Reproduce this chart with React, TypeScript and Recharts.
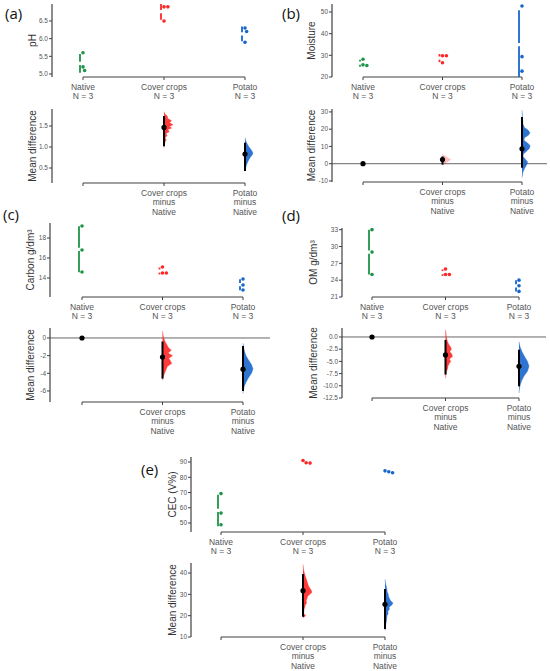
import React from 'react';
import { ComposedChart, XAxis, YAxis, Scatter, ReferenceLine } from 'recharts';

// groups, in plotting order
const groups = ['Native', 'Cover crops', 'Potato'];
const groupN = [3, 3, 3];

// raw observations per group (Native, Cover crops, Potato)
const phValues = [[5.6, 5.2, 5.1], [6.9, 6.9, 6.5], [6.3, 6.2, 5.9]];
const moistureValues = [[28.2, 25.6, 25.3], [29.8, 29.8, 26.6], [52.8, 29.4, 22.7]];
const carbonValues = [[19.2, 16.8, 14.6], [15.1, 14.5, 14.5], [13.9, 13.3, 12.8]];
const omValues = [[33, 29, 25], [26, 25, 25], [24, 23, 22]];
const cecValues = [[69.3, 56.5, 48.9], [91.0, 89.5, 89.3], [84.2, 83.6, 83.0]];

// 95% CI of the mean difference vs Native (Cover crops, Potato)
const phCi = [[1.02, 1.74], [0.43, 1.1]];
const moistureCi = [[-0.5, 4.2], [-2.3, 27]];
const carbonCi = [[-4.6, -0.4], [-6.0, -0.9]];
const omCi = [[-7.7, -0.6], [-10.1, -2.6]];
const cecCi = [[19.5, 39.5], [13.7, 32.5]];

// bootstrap density outlines: [mean difference, relative density]
const phCoverDensity = [[0.98, 0], [1.05, 0.04], [1.12, 0.12], [1.17, 0.25], [1.22, 0.12], [1.27, 0.35], [1.32, 0.22], [1.37, 0.6], [1.41, 0.4], [1.45, 0.85], [1.49, 0.6], [1.53, 1.0], [1.58, 0.62], [1.63, 0.82], [1.68, 0.4], [1.73, 0.38], [1.78, 0.12], [1.84, 0]];
const phPotatoDensity = [[0.42, 0], [0.5, 0.08], [0.58, 0.2], [0.65, 0.35], [0.7, 0.5], [0.75, 0.65], [0.8, 0.85], [0.85, 1.0], [0.9, 0.88], [0.95, 0.7], [1.0, 0.5], [1.05, 0.35], [1.1, 0.2], [1.16, 0.08], [1.22, 0]];
const moistureCoverDensity = [[-1, 0], [0, 0.3], [1, 0.55], [2, 0.9], [2.5, 1.0], [3, 0.8], [4, 0.45], [5, 0.1], [5.5, 0]];
const moisturePotatoDensity = [[-8, 0], [-5, 0.1], [-2.5, 0.35], [-0.5, 0.6], [1, 0.7], [2.5, 0.45], [4, 0.15], [5.5, 0.15], [7, 0.5], [9, 0.95], [10.5, 1.0], [12, 0.7], [13.5, 0.25], [15, 0.3], [16.5, 0.8], [18, 1.0], [19.5, 0.75], [21, 0.3], [23, 0.12], [26, 0.06], [29, 0.03], [31, 0]];
const carbonCoverDensity = [[0.8, 0], [0.4, 0.05], [0, 0.12], [-0.4, 0.25], [-0.8, 0.45], [-1.1, 0.6], [-1.4, 0.88], [-1.7, 0.55], [-2.0, 1.0], [-2.3, 0.62], [-2.6, 0.8], [-2.9, 0.92], [-3.2, 0.5], [-3.6, 0.35], [-4.0, 0.2], [-4.4, 0.08], [-4.8, 0]];
const carbonPotatoDensity = [[-0.6, 0], [-1, 0.05], [-1.5, 0.15], [-2, 0.3], [-2.5, 0.55], [-3, 0.85], [-3.5, 1.0], [-4, 0.85], [-4.5, 0.55], [-5, 0.3], [-5.5, 0.12], [-6, 0.03], [-6.3, 0]];
const omCoverDensity = [[1.5, 0], [1, 0.05], [0, 0.12], [-0.8, 0.25], [-1.5, 0.45], [-2, 0.7], [-2.5, 0.85], [-3, 0.6], [-3.5, 0.9], [-4, 1.0], [-4.5, 0.55], [-5, 0.75], [-5.5, 0.5], [-6, 0.35], [-6.5, 0.3], [-7, 0.15], [-7.5, 0.08], [-8.5, 0]];
const omPotatoDensity = [[-1, 0], [-2, 0.1], [-3, 0.3], [-4, 0.55], [-5, 0.85], [-6, 1.0], [-7, 0.85], [-8, 0.5], [-9, 0.25], [-10, 0.1], [-11, 0.02], [-11.5, 0]];
const cecCoverDensity = [[44, 0], [42, 0.05], [40, 0.15], [38, 0.3], [36, 0.45], [34, 0.6], [33, 0.75], [32, 0.9], [31, 1.0], [30, 0.75], [29, 0.5], [28, 0.45], [27, 0.35], [26, 0.4], [25, 0.25], [24, 0.2], [23, 0.12], [22, 0.1], [21, 0.08], [20, 0.3], [19, 0]];
const cecPotatoDensity = [[37, 0], [35, 0.08], [33, 0.2], [31, 0.3], [30, 0.4], [29, 0.45], [28, 0.55], [27, 0.7], [26, 1.0], [25, 0.85], [24, 0.5], [23, 0.55], [22, 0.35], [21, 0.4], [20, 0.25], [18, 0.2], [16, 0.1], [14, 0.05], [13, 0]];

// axis ticks
const phTicks = [5.0, 5.5, 6.0, 6.5];
const phDiffTicks = [0.5, 1.0, 1.5];
const moistureTicks = [20, 30, 40, 50];
const moistureDiffTicks = [-10, 0, 10, 20, 30];
const carbonTicks = [14, 16, 18];
const carbonDiffTicks = [-6, -4, -2, 0];
const omTicks = [21, 24, 27, 30, 33];
const omDiffTicks = [-12.5, -10, -7.5, -5, -2.5, 0];
const cecTicks = [50, 60, 70, 80, 90];
const cecDiffTicks = [10, 20, 30, 40];

const groupColors = ['#1f9447', '#ff2626', '#1766cc'];
const AXIS = '#404040';
const TEXT = '#555555';
const TITLE = '#333333';
const DOT_R = 1.8;
const PAD_LEFT = 4;

const mean = (a: number[]) => a.reduce((s, v) => s + v, 0) / a.length;
const sd = (a: number[]) => {
  const m = mean(a);
  return Math.sqrt(a.reduce((s, v) => s + (v - m) ** 2, 0) / (a.length - 1));
};

const panels = [
  {
    tag: '(a)', title: 'pH', values: phValues, ci: phCi, density: [phCoverDensity, phPotatoDensity],
    topDomain: [4.915, 6.98], topTicks: phTicks, diffDomain: [0.143, 1.905], diffTicks: phDiffTicks,
    decimals: 1, diffDecimals: 1,
    tagAt: [5, 4], axisX: 52, titleGap: 20, firstX: 83, step: 81, rightX: 272,
    topPlot: [4, 77], diffPlot: [109, 183], densityPx: [9, 8], densityOpacity: [0.9, 0.9],
  },
  {
    tag: '(b)', title: 'Moisture', values: moistureValues, ci: moistureCi, density: [moistureCoverDensity, moisturePotatoDensity],
    topDomain: [20, 53.7], topTicks: moistureTicks, diffDomain: [-10.6, 31.7], diffTicks: moistureDiffTicks,
    decimals: 0, diffDecimals: 0,
    tagAt: [282, 4], axisX: 332, titleGap: 21, firstX: 363, step: 79.5, rightX: 547,
    topPlot: [4, 77], diffPlot: [109, 182], densityPx: [8, 8], densityOpacity: [0.3, 0.9],
  },
  {
    tag: '(c)', title: 'Carbon g/dm³', values: carbonValues, ci: carbonCi, density: [carbonCoverDensity, carbonPotatoDensity],
    topDomain: [12.1, 19.5], topTicks: carbonTicks, diffDomain: [-7.25, 1.13], diffTicks: carbonDiffTicks,
    decimals: 0, diffDecimals: 0,
    tagAt: [3, 205], axisX: 50, titleGap: 20, firstX: 82, step: 80.5, rightX: 270,
    topPlot: [223, 297], diffPlot: [328, 402], densityPx: [10, 10], densityOpacity: [0.9, 0.9],
  },
  {
    tag: '(d)', title: 'OM g/dm³', values: omValues, ci: omCi, density: [omCoverDensity, omPotatoDensity],
    topDomain: [21, 33.3], topTicks: omTicks, diffDomain: [-12.5, 1.84], diffTicks: omDiffTicks,
    decimals: 0, diffDecimals: 1,
    tagAt: [282, 206], axisX: 342, titleGap: 29, firstX: 372, step: 73.5, rightX: 546,
    topPlot: [228, 297], diffPlot: [328, 398], densityPx: [7, 10], densityOpacity: [0.9, 0.9],
  },
  {
    tag: '(e)', title: 'CEC (V%)', values: cecValues, ci: cecCi, density: [cecCoverDensity, cecPotatoDensity],
    topDomain: [44.1, 93.3], topTicks: cecTicks, diffDomain: [10, 44.7], diffTicks: cecDiffTicks,
    decimals: 0, diffDecimals: 0,
    tagAt: [141, 460], axisX: 191, titleGap: 19, firstX: 221, step: 82, rightX: 412,
    topPlot: [457, 532], diffPlot: [563, 637], densityPx: [9, 8], densityOpacity: [0.9, 0.9],
  },
];

const groupRows = groups.map((g, i) => [g, `N = ${groupN[i]}`]);
const contrastRows = groups.map((g, i) => (i === 0 ? [] : [g, 'minus', groups[0]]));

const blank = () => <g />;

const MultiTick = (props: any) => {
  const { x, y, payload, rows } = props;
  const lines: string[] = rows[Math.round(payload.value)] || [];
  return (
    <g>
      {lines.map((t, i) => (
        <text key={i} x={x} y={y + 8 + i * 9.3} textAnchor="middle" fontSize={8.5} fill={TEXT}>
          {t}
        </text>
      ))}
    </g>
  );
};

// beeswarm: push overlapping dots to the right
const swarm = (vals: number[], gi: number, pxPerY: number, step: number) => {
  const d = DOT_R * 2 + 0.3;
  const placed: { dx: number; py: number }[] = [];
  return vals.map((v) => {
    const py = v * pxPerY;
    let dx = 0;
    let moved = true;
    while (moved) {
      moved = false;
      for (const p of placed) {
        const dy = Math.abs(p.py - py);
        if (dy >= d) continue;
        const need = Math.sqrt(d * d - dy * dy);
        if (Math.abs(dx - p.dx) < need - 1e-6) {
          dx = p.dx + need;
          moved = true;
        }
      }
    }
    placed.push({ dx, py });
    return { x: gi + dx / step, y: v };
  });
};

const yAxisProps = (ticks: number[], domain: number[], decimals: number, title: string, yw: number) => ({
  type: 'number' as const,
  dataKey: 'y',
  domain,
  allowDataOverflow: true,
  ticks,
  interval: 0 as const,
  width: yw,
  axisLine: { stroke: AXIS, strokeWidth: 1.2 },
  tickLine: { stroke: AXIS },
  tickSize: 3,
  tickMargin: 1,
  tick: { fontSize: 6.5, fill: TEXT },
  tickFormatter: (v: number) => v.toFixed(decimals),
  label: { value: title, angle: -90, position: 'center', fontSize: 10, fill: TITLE },
});

const StripChart = ({ p, xDomain, width }: any) => {
  const [lo, hi] = p.topDomain;
  const plotH = p.topPlot[1] - p.topPlot[0];
  const pxPerY = plotH / (hi - lo);
  const gap = 1.6 / pxPerY;
  const lineX = 3 / p.step;
  return (
    <ComposedChart width={width} height={plotH + 42} margin={{ top: 2, right: 2, bottom: 0, left: PAD_LEFT }}>
      <XAxis
        type="number" dataKey="x" domain={xDomain} allowDataOverflow ticks={[0, 1, 2]} interval={0}
        axisLine={false} tickLine={{ stroke: AXIS }} tickSize={3} height={40}
        tick={(tp: any) => <MultiTick {...tp} rows={groupRows} />}
      />
      <YAxis {...(yAxisProps(p.topTicks, p.topDomain, p.decimals, p.title, p.titleGap * 2) as any)} />
      <ReferenceLine segment={[{ x: 0, y: lo }, { x: 2, y: lo }]} stroke={AXIS} strokeWidth={1.2} ifOverflow="visible" />
      {p.values.map((vals: number[], gi: number) => {
        const m = mean(vals);
        const s = sd(vals);
        const segs = [
          [Math.max(m - s, lo), m - gap],
          [m + gap, Math.min(m + s, hi)],
        ].filter(([a, b]) => b > a);
        return segs.map(([a, b], k) => (
          <Scatter
            key={`sd${gi}-${k}`}
            data={[{ x: gi - lineX, y: a }, { x: gi - lineX, y: b }]}
            isAnimationActive={false}
            shape={blank}
            line={{ stroke: groupColors[gi], strokeWidth: 1.8 }}
          />
        ));
      })}
      {p.values.map((vals: number[], gi: number) => (
        <Scatter
          key={`pts${gi}`}
          data={swarm(vals, gi, pxPerY, p.step)}
          isAnimationActive={false}
          shape={(sp: any) => <circle cx={sp.cx} cy={sp.cy} r={DOT_R} fill={groupColors[gi]} />}
        />
      ))}
    </ComposedChart>
  );
};

const DiffChart = ({ p, xDomain, width }: any) => {
  const [lo, hi] = p.diffDomain;
  const plotH = p.diffPlot[1] - p.diffPlot[0];
  const base = mean(p.values[0]);
  const zeroIn = lo <= 0 && hi >= 0;
  const diffs = p.values.map((v: number[], gi: number) => ({ x: gi, y: mean(v) - base }));
  const meanPts = zeroIn ? diffs : diffs.slice(1);
  return (
    <ComposedChart width={width} height={plotH + 42} margin={{ top: 2, right: 2, bottom: 0, left: PAD_LEFT }}>
      <XAxis
        type="number" dataKey="x" domain={xDomain} allowDataOverflow ticks={[0, 1, 2]} interval={0}
        axisLine={false} tickLine={{ stroke: AXIS }} tickSize={3} height={40}
        tick={(tp: any) => <MultiTick {...tp} rows={contrastRows} />}
      />
      <YAxis {...(yAxisProps(p.diffTicks, p.diffDomain, p.diffDecimals, 'Mean difference', p.titleGap * 2) as any)} />
      {zeroIn && <ReferenceLine y={0} stroke="#666" strokeWidth={1} />}
      <ReferenceLine segment={[{ x: 0, y: lo }, { x: 2, y: lo }]} stroke={AXIS} strokeWidth={1.2} ifOverflow="visible" />
      {p.density.map((dens: number[][], k: number) => {
        const gi = k + 1;
        const w = p.densityPx[k] / p.step;
        return (
          <Scatter
            key={`dens${k}`}
            data={dens.map(([y, r]) => ({ x: gi + r * w, y }))}
            isAnimationActive={false}
            shape={blank}
            line={{
              stroke: groupColors[gi],
              strokeWidth: 0.4,
              strokeOpacity: p.densityOpacity[k],
              fill: groupColors[gi],
              fillOpacity: p.densityOpacity[k],
            }}
          />
        );
      })}
      {p.ci.map(([a, b]: number[], k: number) => (
        <Scatter
          key={`ci${k}`}
          data={[{ x: k + 1, y: a }, { x: k + 1, y: b }]}
          isAnimationActive={false}
          shape={blank}
          line={{ stroke: '#000', strokeWidth: 2 }}
        />
      ))}
      <Scatter
        data={meanPts}
        isAnimationActive={false}
        shape={(sp: any) => <circle cx={sp.cx} cy={sp.cy} r={2.6} fill="#000" />}
      />
    </ComposedChart>
  );
};

const Panel = ({ p }: any) => {
  const left = p.axisX - (PAD_LEFT + p.titleGap * 2);
  const width = p.rightX + 2 - left;
  const lastX = p.firstX + 2 * p.step;
  const xDomain = [-(p.firstX - p.axisX) / p.step, 2 + (p.rightX - lastX) / p.step];
  return (
    <>
      <div style={{ position: 'absolute', left: p.tagAt[0], top: p.tagAt[1], fontSize: 15, lineHeight: '18px', fontFamily: '"Open Sans", sans-serif', color: '#111' }}>
        {p.tag}
      </div>
      <div style={{ position: 'absolute', left, top: p.topPlot[0] - 2 }}>
        <StripChart p={p} xDomain={xDomain} width={width} />
      </div>
      <div style={{ position: 'absolute', left, top: p.diffPlot[0] - 2 }}>
        <DiffChart p={p} xDomain={xDomain} width={width} />
      </div>
    </>
  );
};

export default function App() {
  return (
    <div
      style={{
        position: 'absolute', left: 0, top: 0, width: 550, height: 671, background: '#fff', overflow: 'hidden',
        fontFamily: '"Liberation Sans", Arial, sans-serif',
      }}
    >
      {panels.map((p) => (
        <Panel key={p.tag} p={p} />
      ))}
    </div>
  );
}
